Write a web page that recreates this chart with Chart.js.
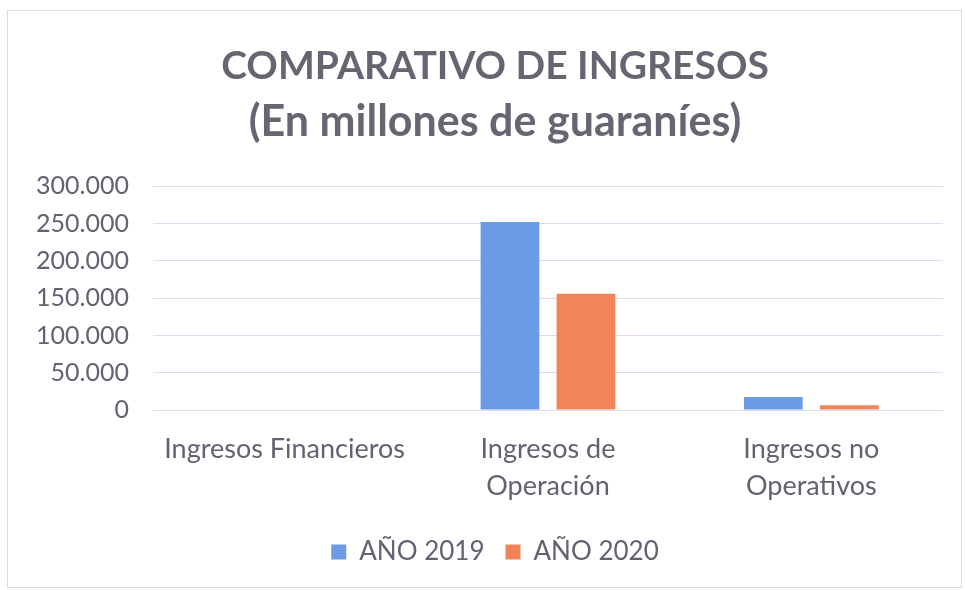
<!DOCTYPE html>
<html>
<head>
<meta charset="utf-8">
<script src="https://cdn.jsdelivr.net/npm/chart.js@4/dist/chart.umd.min.js"></script>
<style>
  html, body { margin: 0; padding: 0; background: #ffffff; overflow: hidden; width: 965px; height: 590px; }
  #wrap { position: absolute; left: 7px; top: 10px; width: 955px; height: 578px; border: 1px solid #dcdce8; box-sizing: border-box; }
  #c { position: absolute; left: 0; top: 0; }
</style>
</head>
<body>
<div id="wrap"></div>
<canvas id="c" width="990" height="590"></canvas>
<script>
const categories = [["Ingresos Financieros"], ["Ingresos de", "Operación"], ["Ingresos no", "Operativos"]];
const seriesNames = ["AÑO 2019", "AÑO 2020"];
const values2019 = [0, 252000, 17500];
const values2020 = [0, 156000, 6300];
const yTicks = [0, 50000, 100000, 150000, 200000, 250000, 300000];
const titleText = "COMPARATIVO DE INGRESOS";
const subtitleText = "(En millones de guaraníes)";

const FONT = "Lato, 'Open Sans', sans-serif";
const GRAY = "#626270";

function fmt(v) {
  return String(v).replace(/\B(?=(\d{3})+(?!\d))/g, ".");
}

new Chart(document.getElementById('c'), {
  type: 'bar',
  data: {
    labels: categories,
    datasets: [
      { label: seriesNames[0], data: values2019, backgroundColor: '#6b9be6', categoryPercentage: 0.577, barPercentage: 0.773 },
      { label: seriesNames[1], data: values2020, backgroundColor: '#f2845a', categoryPercentage: 0.577, barPercentage: 0.773 }
    ]
  },
  options: {
    responsive: false,
    animation: false,
    layout: { padding: { left: 12, right: 12, top: 41, bottom: 15 } },
    plugins: {
      title: {
        display: true,
        text: titleText,
        color: '#666673',
        font: { family: FONT, size: 39, weight: 'bold', lineHeight: 1.3 },
        padding: { top: 0, bottom: 0 }
      },
      subtitle: {
        display: true,
        text: subtitleText,
        color: '#666673',
        font: { family: FONT, size: 43, weight: 'bold', lineHeight: 1.2 },
        padding: { top: 5, bottom: 38 }
      },
      legend: {
        position: 'bottom',
        labels: {
          color: GRAY,
          font: { family: FONT, size: 26 },
          boxWidth: 15,
          boxHeight: 15,
          padding: 21
        }
      },
      tooltip: { enabled: false }
    },
    scales: {
      x: {
        grid: { display: false },
        border: { display: false },
        ticks: {
          color: GRAY,
          font: { family: FONT, size: 27, lineHeight: 1.37 },
          maxRotation: 0,
          autoSkip: false,
          padding: 13
        }
      },
      y: {
        min: 0,
        max: 300000,
        afterBuildTicks: (axis) => { axis.ticks = yTicks.map(v => ({ value: v })); },
        grid: { color: '#dcdcf0', lineWidth: 1, drawTicks: false },
        border: { display: false },
        ticks: {
          color: GRAY,
          font: { family: FONT, size: 25 },
          padding: 24,
          callback: (v) => fmt(v)
        }
      },
      y2: {
        position: 'right',
        min: 0,
        max: 300000,
        grid: { display: false },
        border: { display: false },
        ticks: { display: false },
        afterFit: (axis) => { axis.width = 35; }
      }
    }
  }
});
</script>
</body>
</html>
